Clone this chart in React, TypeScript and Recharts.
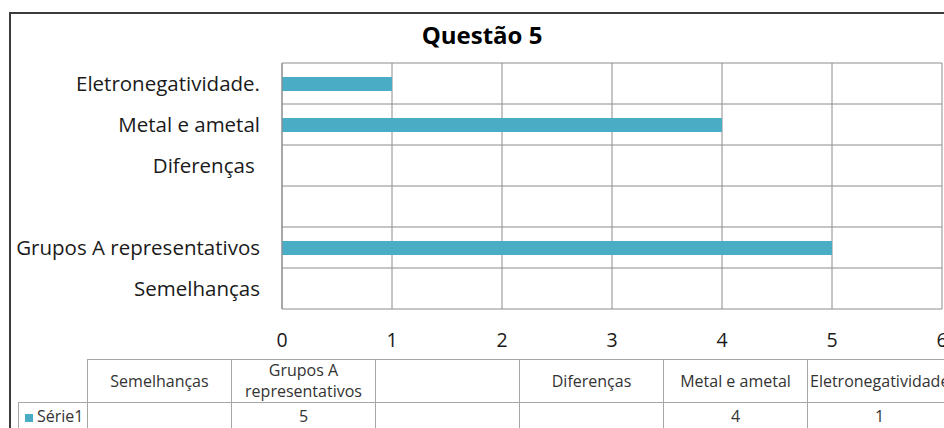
import React from "react";
import { BarChart, Bar, XAxis, YAxis, CartesianGrid } from "recharts";

const title = "Questão 5";
const seriesName = "Série1";
const categories = ["Semelhanças", "Grupos A representativos", "", "Diferenças ", "Metal e ametal", "Eletronegatividade."];
const serie1: (number | null)[] = [null, 5, null, null, 4, 1];
const xTicks = [0, 1, 2, 3, 4, 5, 6];

const BAR = "#4BACC6";
const GRID = "#8c8c8c";
const FONT = "'Open Sans', sans-serif";

const data = categories.map((name, i) => ({ name, v: serie1[i] }));

const XTick = (props: any) => {
  const { x, y, payload } = props;
  return (
    <text x={x} y={y} dy={38} textAnchor="middle" fill="#1a1a1a" fontSize={19.5} fontFamily={FONT}>
      {payload.value}
    </text>
  );
};

const YTick = (props: any) => {
  const { x, y, payload } = props;
  return (
    <text x={x} y={y} dy="0.36em" textAnchor="end" fill="#1a1a1a" fontSize={20.5} fontFamily={FONT} style={{ whiteSpace: "pre" }}>
      {payload.value}
    </text>
  );
};

const bandLines = ({ offset }: any) => {
  const n = categories.length;
  const out: number[] = [];
  for (let i = 0; i <= n; i++) out.push(offset.top + (offset.height * i) / n);
  return out;
};

const cellBase: React.CSSProperties = {
  border: "1px solid #a6a6a6",
  padding: 0,
  textAlign: "center",
  verticalAlign: "middle",
  whiteSpace: "normal",
  overflow: "hidden",
};

export default function App() {
  return (
    <div style={{ position: "absolute", left: 0, top: 0, width: 944, height: 428, overflow: "hidden", background: "#fff", fontFamily: FONT }}>
      <div style={{ position: "absolute", left: 9, top: 12, width: 1000, height: 500, border: "2px solid #3c3c3c", boxSizing: "border-box" }} />
      <div style={{ position: "absolute", left: 0, top: 18, width: 964, textAlign: "center", fontWeight: 700, fontSize: 24, color: "#000" }}>
        {title}
      </div>
      <div style={{ position: "absolute", left: 0, top: 0 }}>
        <BarChart width={944} height={360} layout="vertical" data={data} margin={{ top: 63, right: 2, bottom: 0, left: 0 }}>
          <CartesianGrid stroke={GRID} horizontalCoordinatesGenerator={bandLines} />
          <XAxis type="number" domain={[0, 6]} ticks={xTicks} interval={0} height={51} axisLine={false} tickLine={false} tickSize={0} tickMargin={0} tick={<XTick />} />
          <YAxis type="category" dataKey="name" reversed width={282} axisLine={{ stroke: GRID }} tickLine={false} tickSize={0} tickMargin={22} interval={0} tick={<YTick />} />
          <Bar dataKey="v" name={seriesName} fill={BAR} barSize={14} isAnimationActive={false} />
        </BarChart>
      </div>
      <table style={{ position: "absolute", left: 18, top: 359, width: 933, minWidth: 933, borderCollapse: "collapse", tableLayout: "fixed", fontSize: 16, color: "#333", lineHeight: "21px" }}>
        <colgroup>
          <col style={{ width: 69 }} />
          {categories.map((c, i) => (
            <col key={i} style={{ width: 144 }} />
          ))}
        </colgroup>
        <tbody>
          <tr style={{ height: 43 }}>
            <td style={{ ...cellBase, border: "none", borderRight: "1px solid #a6a6a6", borderBottom: "1px solid #a6a6a6" }}></td>
            {categories.map((c, i) => (
              <td key={i} style={{ ...cellBase, whiteSpace: i === categories.length - 1 ? "nowrap" : "normal", textAlign: i === categories.length - 1 ? "left" : "center", paddingLeft: i === categories.length - 1 ? 2 : 0 }}>{c}</td>
            ))}
          </tr>
          <tr style={{ height: 28 }}>
            <td style={{ ...cellBase, textAlign: "left", paddingLeft: 6, whiteSpace: "nowrap" }}>
              <span style={{ display: "inline-block", width: 8, height: 8, background: BAR, marginRight: 4 }} />
              {seriesName}
            </td>
            {serie1.map((v, i) => (
              <td key={i} style={cellBase}>{v == null ? "" : v}</td>
            ))}
          </tr>
        </tbody>
      </table>
    </div>
  );
}
